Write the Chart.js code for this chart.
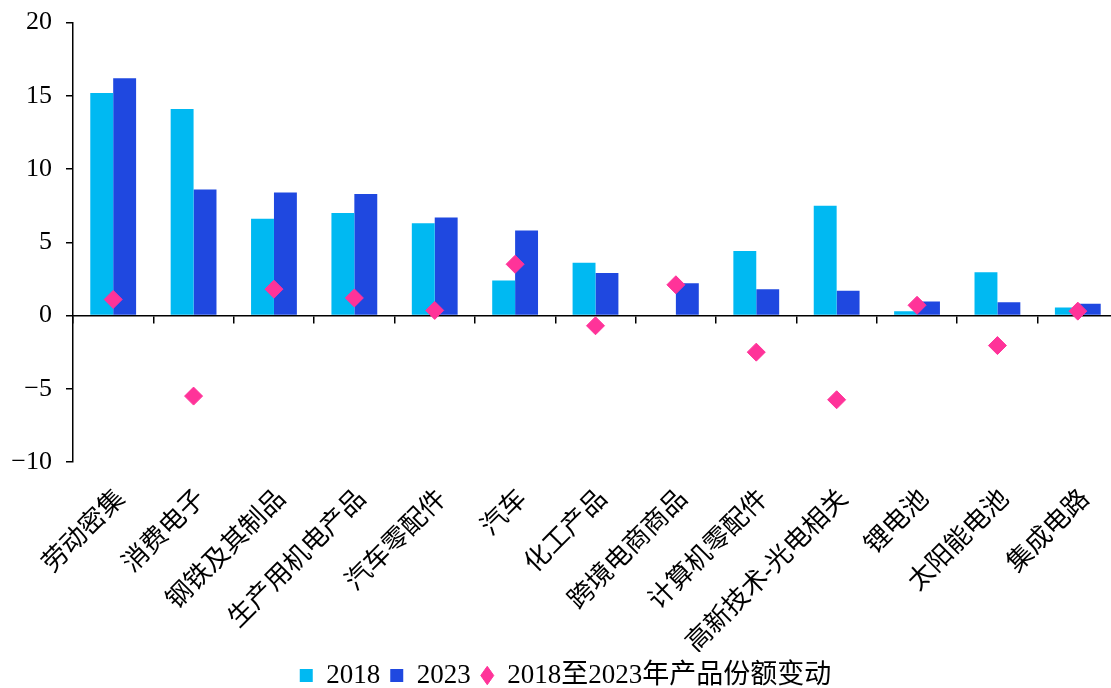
<!DOCTYPE html>
<html>
<head>
<meta charset="utf-8">
<script src="https://cdn.jsdelivr.net/npm/chart.js@4"></script>
<style>
  html, body { margin: 0; padding: 0; background: #fff; overflow: hidden; }
  #wrap { width: 1128px; height: 706px; margin-top: -7px; }
</style>
</head>
<body>
<div id="wrap"><canvas id="chartShares"></canvas></div>
<script>
// 各类产品份额：2018 与 2023 对比，以及变动
const categories = ['劳动密集', '消费电子', '钢铁及其制品', '生产用机电产品', '汽车零配件', '汽车',
  '化工产品', '跨境电商商品', '计算机零配件', '高新技术-光电相关', '锂电池', '太阳能电池', '集成电路'];
const share2018 = [15.2, 14.1, 6.6, 7.0, 6.3, 2.4, 3.6, 0.05, 4.4, 7.5, 0.3, 2.95, 0.55];
const share2023 = [16.2, 8.6, 8.4, 8.3, 6.7, 5.8, 2.9, 2.2, 1.8, 1.7, 0.95, 0.9, 0.8];
const shareChange = [1.1, -5.5, 1.8, 1.2, 0.35, 3.5, -0.7, 2.1, -2.5, -5.75, 0.7, -2.05, 0.3];
const yTicks = [-10, -5, 0, 5, 10, 15, 20];

const FONT = "'Liberation Serif', 'Noto Sans CJK SC', serif";

const el = document.getElementById('chartShares');
new Chart(el, {
  type: 'bar',
  data: {
    labels: categories,
    datasets: [
      {
        label: '2018',
        data: share2018,
        backgroundColor: '#00B9F2',
        pointStyle: 'rect',
        categoryPercentage: 0.57,
        barPercentage: 1.0,
        order: 2
      },
      {
        label: '2023',
        data: share2023,
        backgroundColor: '#1F48E0',
        pointStyle: 'rect',
        categoryPercentage: 0.57,
        barPercentage: 1.0,
        order: 2
      },
      {
        type: 'line',
        label: '2018至2023年产品份额变动',
        data: shareChange,
        showLine: false,
        pointStyle: 'rectRot',
        pointRadius: 9,
        pointHoverRadius: 9,
        pointBackgroundColor: '#FF3399',
        pointBorderColor: '#FF3399',
        backgroundColor: '#FF3399',
        borderColor: '#FF3399',
        order: 1
      }
    ]
  },
  options: {
    responsive: true,
    maintainAspectRatio: false,
    animation: false,
    layout: { padding: { top: 6, left: 3, right: 0, bottom: 0 } },
    plugins: {
      tooltip: { enabled: false },
      legend: {
        position: 'bottom',
        labels: {
          usePointStyle: true,
          pointStyleWidth: 13,
          boxHeight: 13,
          padding: 10,
          color: '#000',
          font: { family: FONT, size: 27 },
          sort: (a, b) => a.datasetIndex - b.datasetIndex
        }
      }
    },
    scales: {
      x: {
        grid: { display: false },
        border: { display: false },
        afterFit: scale => { scale.height = 190; },
        ticks: {
          color: '#000',
          minRotation: 45,
          maxRotation: 45,
          padding: 14,
          labelOffset: 8,
          font: { family: FONT, size: 26 }
        }
      },
      // 零值处的横轴：只画轴线和分隔刻度
      x2: {
        type: 'category',
        position: { y: 0 },
        grid: {
          offset: true,
          drawOnChartArea: false,
          drawTicks: true,
          tickLength: 7,
          color: '#000',
          lineWidth: 1.5
        },
        border: { display: true, color: '#000', width: 1.5 },
        ticks: { display: false }
      },
      y: {
        min: -10,
        max: 20,
        afterBuildTicks: axis => { axis.ticks = yTicks.map(v => ({ value: v })); },
        afterFit: scale => { scale.width = 70; },
        grid: {
          drawOnChartArea: false,
          drawTicks: true,
          tickLength: 7,
          color: '#000',
          lineWidth: 1.5
        },
        border: { display: true, color: '#000', width: 1.5 },
        ticks: {
          color: '#000',
          padding: 14,
          font: { family: FONT, size: 26 },
          callback: v => (v < 0 ? '\u2212' + Math.abs(v) : String(v))
        }
      }
    }
  }
});
</script>
</body>
</html>
